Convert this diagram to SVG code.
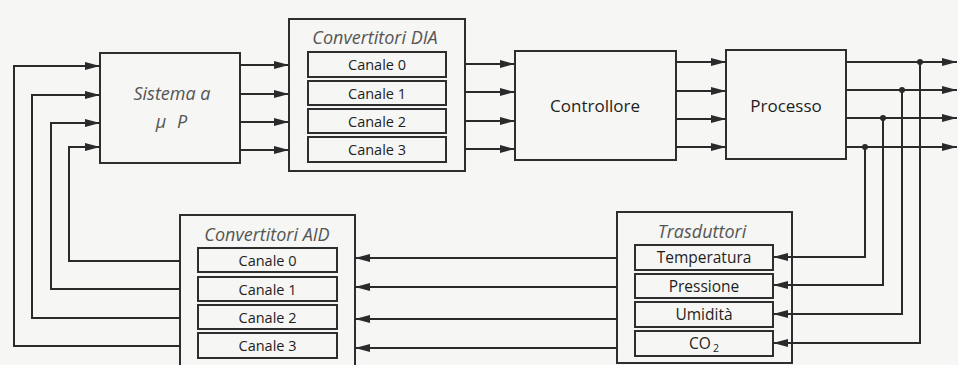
<svg xmlns="http://www.w3.org/2000/svg" width="958" height="365" viewBox="0 0 958 365">
<defs>
<marker id="ah" markerUnits="userSpaceOnUse" markerWidth="18" markerHeight="10" refX="15" refY="4" orient="auto">
<path d="M0,0 L15,4 L0,8 Z" fill="#2a2a2a"/>
</marker>
<style>
.box{fill:none;stroke:#2e2e2e;stroke-width:2}
.ln{fill:none;stroke:#2a2a2a;stroke-width:2}
.arr{fill:none;stroke:#2a2a2a;stroke-width:2;marker-end:url(#ah)}
.t{font-family:"Open Sans","Noto Sans",sans-serif;font-size:14.5px;fill:#1e1e1e;text-anchor:middle}
.ts{font-family:"Open Sans","Noto Sans",sans-serif;font-size:15.5px;fill:#1e1e1e;text-anchor:middle}
.tl{font-family:"Open Sans","Noto Sans",sans-serif;font-size:17px;fill:#1e1e1e;text-anchor:middle}
.ti{font-family:"Open Sans","Noto Sans",sans-serif;font-size:18px;font-style:italic;fill:#555;text-anchor:middle}
</style>
</defs>
<rect x="0" y="0" width="958" height="365" fill="#f6f6f4"/>

<g id="sistema">
<rect class="box" x="100" y="53" width="140" height="110"/>
<text class="ti" x="172" y="100">Sistema a</text>
<text class="ti" x="161" y="128">μ</text>
<text class="ti" x="182" y="128">P</text>
</g>

<g id="dia">
<rect class="box" x="289" y="19" width="176" height="152"/>
<text class="ti" x="375" y="44">Convertitori DIA</text>
<rect class="box" x="308" y="52" width="138" height="25"/>
<text class="t" x="377" y="70">Canale 0</text>
<rect class="box" x="308" y="81" width="138" height="24"/>
<text class="t" x="377" y="98.5">Canale 1</text>
<rect class="box" x="308" y="109" width="138" height="24"/>
<text class="t" x="377" y="126.5">Canale 2</text>
<rect class="box" x="308" y="137" width="138" height="25"/>
<text class="t" x="377" y="155">Canale 3</text>
</g>

<g id="controllore">
<rect class="box" x="515" y="51" width="161" height="109"/>
<text class="tl" x="595" y="112">Controllore</text>
</g>

<g id="processo">
<rect class="box" x="726" y="50" width="120" height="109"/>
<text class="tl" x="786" y="112">Processo</text>
</g>

<g id="trasduttori">
<rect class="box" x="617" y="212" width="175" height="151"/>
<text class="ti" x="702" y="238">Trasduttori</text>
<rect class="box" x="635" y="245" width="138" height="25"/>
<text class="ts" x="704" y="263">Temperatura</text>
<rect class="box" x="635" y="274" width="138" height="24"/>
<text class="ts" x="704" y="291.5">Pressione</text>
<rect class="box" x="635" y="302" width="138" height="25"/>
<text class="ts" x="704" y="320">Umidità</text>
<rect class="box" x="635" y="331" width="138" height="25"/>
<text class="ts" x="704" y="349">CO<tspan font-size="10.5" dx="2" dy="3">2</tspan></text>
</g>

<g id="aid">
<rect class="box" x="180" y="215" width="175" height="160"/>
<text class="ti" x="267" y="241">Convertitori AID</text>
<rect class="box" x="198" y="248" width="139" height="24"/>
<text class="t" x="267.5" y="265.5">Canale 0</text>
<rect class="box" x="198" y="277" width="139" height="24"/>
<text class="t" x="267.5" y="294.5">Canale 1</text>
<rect class="box" x="198" y="305" width="139" height="24"/>
<text class="t" x="267.5" y="322.5">Canale 2</text>
<rect class="box" x="198" y="333" width="139" height="25"/>
<text class="t" x="267.5" y="351">Canale 3</text>
</g>

<g id="connectors">
<path class="arr" d="M180,346 H14 V66 H100"/>
<path class="arr" d="M180,318 H32 V95 H100"/>
<path class="arr" d="M180,289 H51 V123 H100"/>
<path class="arr" d="M180,261 H69 V147 H100"/>

<path class="arr" d="M240,65 H289"/>
<path class="arr" d="M240,94 H289"/>
<path class="arr" d="M240,122 H289"/>
<path class="arr" d="M240,150 H289"/>

<path class="arr" d="M465,64 H515"/>
<path class="arr" d="M465,92 H515"/>
<path class="arr" d="M465,121 H515"/>
<path class="arr" d="M465,149 H515"/>

<path class="arr" d="M676,62 H726"/>
<path class="arr" d="M676,91 H726"/>
<path class="arr" d="M676,119 H726"/>
<path class="arr" d="M676,147 H726"/>

<path class="arr" d="M846,62 H957"/>
<path class="arr" d="M846,90 H957"/>
<path class="arr" d="M846,118 H957"/>
<path class="arr" d="M846,147 H957"/>

<circle cx="920" cy="62" r="3" fill="#2a2a2a"/>
<circle cx="902" cy="90" r="3" fill="#2a2a2a"/>
<circle cx="883" cy="118" r="3" fill="#2a2a2a"/>
<circle cx="865" cy="147" r="3" fill="#2a2a2a"/>

<path class="arr" d="M865,147 V257 H773"/>
<path class="arr" d="M883,118 V285 H773"/>
<path class="arr" d="M902,90 V314 H773"/>
<path class="arr" d="M920,62 V343 H773"/>

<path class="arr" d="M617,258 H355"/>
<path class="arr" d="M617,287 H355"/>
<path class="arr" d="M617,319 H355"/>
<path class="arr" d="M617,348 H355"/>
</g>
</svg>
